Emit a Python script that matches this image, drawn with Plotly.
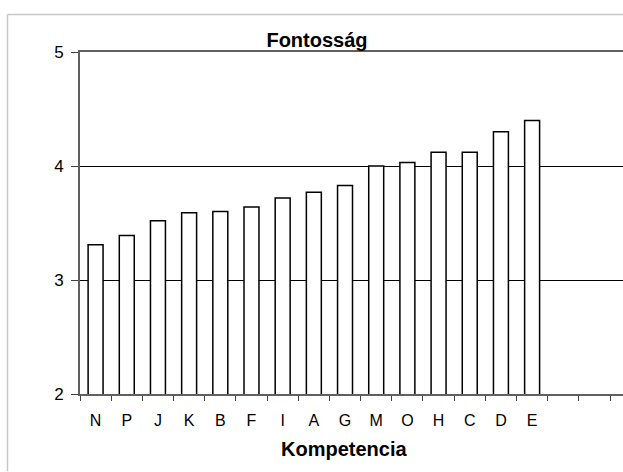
import plotly.graph_objects as go

# Competences ordered by importance score
competences = ["N", "P", "J", "K", "B", "F", "I", "A", "G", "M", "O", "H", "C", "D", "E"]
importance = [3.31, 3.39, 3.52, 3.59, 3.60, 3.64, 3.72, 3.77, 3.83, 4.00, 4.03, 4.12, 4.12, 4.30, 4.40]
# two unused category slots at the end of the axis
spare_slots = [" ", "  "]

y_ticks = [2, 3, 4, 5]

W, H = 623, 472
m_left, m_right, m_top, m_bottom = 80, 0, 51.5, 77.5
plot_w = W - m_left - m_right
plot_h = H - m_top - m_bottom
cat_px = 31.18  # width of one category slot

x_hi = -0.5 + plot_w / cat_px

fig = go.Figure(
    go.Bar(
        x=competences,
        y=importance,
        width=0.48,
        marker=dict(color="white", line=dict(color="black", width=1.5)),
        showlegend=False,
    )
)

font = "Liberation Sans, Arial, sans-serif"

fig.update_layout(
    width=W,
    height=H,
    margin=dict(l=m_left, r=m_right, t=m_top, b=m_bottom, pad=0),
    paper_bgcolor="white",
    plot_bgcolor="white",
    font=dict(family=font, color="black", size=16),
    title=dict(
        text="<b>Fontosság</b>",
        font=dict(size=20, family=font, color="black"),
        x=317 / W,
        xref="container",
        xanchor="center",
        y=1 - 40 / H,
        yref="container",
        yanchor="middle",
    ),
)

fig.update_xaxes(
    type="category",
    categoryorder="array",
    categoryarray=competences + spare_slots,
    range=[-0.5, x_hi],
    tickson="boundaries",
    ticks="outside",
    ticklen=5,
    tickwidth=1,
    tickcolor="#404040",
    showline=True,
    linecolor="#606060",
    linewidth=2,
    mirror=True,
    showgrid=False,
    tickfont=dict(size=16, family=font),
    ticklabelstandoff=11,
)

fig.update_yaxes(
    range=[2, 5],
    tickvals=y_ticks,
    ticks="outside",
    ticklen=7,
    tickwidth=1,
    tickcolor="#404040",
    showline=True,
    linecolor="#606060",
    linewidth=2,
    showgrid=True,
    gridcolor="black",
    gridwidth=1,
    zeroline=False,
    tickfont=dict(size=17, family=font),
    ticklabelstandoff=4,
)

# axis title below the category labels
fig.add_annotation(
    text="<b>Kompetencia</b>",
    xref="paper",
    yref="paper",
    x=(344 - m_left) / plot_w,
    y=-(450 - (H - m_bottom)) / plot_h,
    xanchor="center",
    yanchor="middle",
    showarrow=False,
    font=dict(size=20, family=font, color="black"),
)

# light frame around the chart area (top and left edges are inside the page)
frame_left = -(m_left - 7.5) / plot_w
frame_top = (H - m_bottom - 14) / plot_h
frame = dict(color="#c8c8c8", width=1.5)
fig.add_shape(type="line", xref="paper", yref="paper",
              x0=frame_left, x1=1.0, y0=frame_top, y1=frame_top, line=frame, layer="below")
fig.add_shape(type="line", xref="paper", yref="paper",
              x0=frame_left, x1=frame_left, y0=frame_top, y1=-(m_bottom / plot_h), line=frame, layer="below")

fig.write_html("out.html")
